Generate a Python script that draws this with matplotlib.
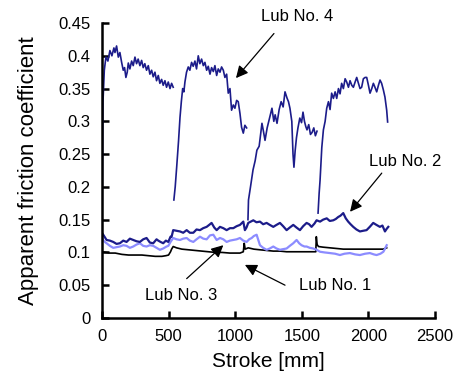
import matplotlib
matplotlib.use('Agg')
import matplotlib.pyplot as plt

plt.rcParams['font.family'] = ['Liberation Sans', 'DejaVu Sans']

# Lub No. 4 - four separate runs
lub4_x1 = [0, 3, 8, 18, 30, 45, 60, 75, 90, 98, 110, 123, 135, 148, 160, 170, 180, 190, 198, 210,
           223, 235, 248, 260, 272, 285, 298, 310, 322, 335, 348, 360, 373, 385, 398, 410, 423, 435, 448, 460,
           473, 485, 498, 511, 523, 535]
lub4_y1 = [0.07, 0.2, 0.33, 0.378, 0.398, 0.392, 0.408, 0.40, 0.412, 0.405, 0.415, 0.398, 0.405, 0.39, 0.378, 0.382, 0.367, 0.375, 0.389, 0.38,
           0.392, 0.385, 0.398, 0.388, 0.395, 0.385, 0.393, 0.382, 0.388, 0.378, 0.385, 0.372, 0.378, 0.368, 0.375, 0.362, 0.37, 0.358, 0.364, 0.355,
           0.362, 0.352, 0.36, 0.35, 0.358, 0.352]
lub4_x2 = [540, 550, 561, 575, 586, 596, 606, 615, 623, 635, 648, 660, 673, 685, 698, 710, 723, 735, 748, 761,
           773, 786, 798, 811, 823, 836, 848, 861, 873, 886, 898, 911, 923, 936, 948, 961, 973, 986, 998, 1011,
           1023, 1036, 1048, 1061, 1073, 1086]
lub4_y2 = [0.18, 0.2, 0.23, 0.27, 0.306, 0.33, 0.35, 0.345, 0.36, 0.375, 0.383, 0.378, 0.39, 0.384, 0.392, 0.38, 0.40, 0.388, 0.395, 0.385,
           0.39, 0.378, 0.384, 0.372, 0.382, 0.376, 0.385, 0.37, 0.38, 0.375, 0.383, 0.378, 0.367, 0.372, 0.343, 0.35, 0.317, 0.325, 0.32, 0.332,
           0.33, 0.312, 0.291, 0.282, 0.294, 0.29]
lub4_x3 = [1096, 1100, 1115, 1134, 1150, 1163, 1180, 1201, 1212, 1224, 1240, 1258, 1276, 1290, 1300, 1314, 1330, 1345, 1360, 1374,
           1390, 1400, 1411, 1425, 1434, 1441, 1450, 1460, 1471, 1485, 1498, 1509, 1520, 1530, 1539, 1552, 1565, 1577, 1590, 1602, 1614]
lub4_y3 = [0.15, 0.18, 0.2, 0.226, 0.24, 0.256, 0.262, 0.297, 0.285, 0.271, 0.29, 0.305, 0.32, 0.30, 0.31, 0.297, 0.318, 0.33, 0.322, 0.345,
           0.335, 0.33, 0.32, 0.3, 0.25, 0.23, 0.255, 0.275, 0.29, 0.305, 0.298, 0.314, 0.3, 0.292, 0.287, 0.295, 0.28, 0.283, 0.29, 0.278, 0.285]
lub4_x4 = [1622, 1630, 1637, 1650, 1662, 1675, 1687, 1700, 1712, 1724, 1737, 1750, 1762, 1775, 1787, 1799, 1812, 1825, 1837, 1850,
           1862, 1875, 1887, 1900, 1912, 1925, 1937, 1949, 1962, 1975, 1987, 2000, 2012, 2025, 2037, 2049, 2062, 2075, 2087, 2099,
           2112, 2124, 2137, 2144]
lub4_y4 = [0.16, 0.19, 0.21, 0.26, 0.287, 0.3, 0.32, 0.33, 0.318, 0.343, 0.335, 0.345, 0.335, 0.35, 0.342, 0.358, 0.35, 0.365, 0.36, 0.352,
           0.362, 0.355, 0.352, 0.36, 0.367, 0.358, 0.35, 0.352, 0.365, 0.367, 0.367, 0.355, 0.343, 0.35, 0.358, 0.352, 0.345, 0.355, 0.363, 0.358,
           0.348, 0.337, 0.317, 0.299]

lub2_x = [0, 10, 35, 60, 85, 110, 135, 160, 185, 210, 235, 260, 285, 310, 335, 360, 385, 410, 423, 440,
          460, 480, 498, 515, 523, 535, 560, 586, 610, 636, 660, 686, 710, 736, 760, 786, 805, 823, 843, 861,
          886, 911, 936, 961, 986, 1011, 1036, 1061, 1073, 1085, 1098, 1136, 1160, 1186, 1210, 1236, 1260, 1286, 1310, 1336,
          1360, 1386, 1410, 1436, 1460, 1486, 1510, 1536, 1555, 1573, 1595, 1611, 1637, 1660, 1687, 1710, 1736, 1755, 1773, 1790,
          1811, 1830, 1848, 1866, 1886, 1910, 1936, 1960, 1986, 2010, 2036, 2060, 2086, 2105, 2124, 2137, 2149]
lub2_y = [0.13, 0.127, 0.119, 0.118, 0.116, 0.113, 0.114, 0.118, 0.116, 0.121, 0.119, 0.117, 0.116, 0.12, 0.122, 0.115, 0.114, 0.12, 0.118, 0.116,
          0.114, 0.118, 0.116, 0.124, 0.124, 0.134, 0.133, 0.132, 0.13, 0.134, 0.13, 0.13, 0.135, 0.134, 0.137, 0.139, 0.142, 0.145, 0.138, 0.134,
          0.139, 0.137, 0.134, 0.137, 0.137, 0.14, 0.142, 0.147, 0.134, 0.138, 0.145, 0.149, 0.146, 0.147, 0.143, 0.145, 0.142, 0.139, 0.142, 0.145,
          0.14, 0.134, 0.138, 0.142, 0.138, 0.134, 0.14, 0.145, 0.143, 0.139, 0.144, 0.149, 0.147, 0.15, 0.152, 0.148, 0.149, 0.151, 0.154, 0.156,
          0.16, 0.152, 0.147, 0.143, 0.139, 0.135, 0.132, 0.133, 0.134, 0.139, 0.145, 0.142, 0.139, 0.141, 0.132, 0.136, 0.139]

lub3_x = [0, 10, 35, 60, 85, 110, 135, 160, 185, 210, 235, 260, 285, 310, 335, 360, 385, 410, 435, 460,
          485, 498, 515, 535, 560, 586, 610, 636, 660, 686, 710, 736, 761, 786, 811, 836, 861, 886, 911, 936,
          961, 986, 1011, 1036, 1061, 1086, 1105, 1124, 1140, 1161, 1175, 1186, 1210, 1236, 1260, 1286, 1310, 1336, 1360, 1386,
          1410, 1436, 1461, 1480, 1498, 1520, 1536, 1560, 1586, 1611, 1637, 1670, 1711, 1750, 1786, 1820, 1861, 1900, 1936, 1975,
          2011, 2040, 2061, 2090, 2112, 2125, 2137]
lub3_y = [0.124, 0.118, 0.114, 0.11, 0.107, 0.108, 0.109, 0.111, 0.11, 0.107, 0.109, 0.112, 0.114, 0.11, 0.109, 0.111, 0.11, 0.107, 0.104, 0.106,
          0.109, 0.11, 0.116, 0.122, 0.12, 0.119, 0.121, 0.122, 0.118, 0.116, 0.12, 0.124, 0.121, 0.12, 0.126, 0.127, 0.119, 0.122, 0.12, 0.116,
          0.118, 0.119, 0.12, 0.122, 0.118, 0.116, 0.12, 0.122, 0.125, 0.127, 0.118, 0.111, 0.107, 0.104, 0.106, 0.109, 0.106, 0.104, 0.105, 0.106,
          0.11, 0.114, 0.119, 0.114, 0.111, 0.109, 0.109, 0.107, 0.106, 0.104, 0.101, 0.1, 0.099, 0.098, 0.096, 0.098, 0.099, 0.097, 0.096, 0.098,
          0.099, 0.097, 0.096, 0.098, 0.101, 0.106, 0.111]

lub1_x = [0, 30, 60, 100, 150, 200, 250, 300, 350, 400, 450, 480, 500, 515, 523, 535, 560, 600, 650, 700,
          750, 800, 850, 900, 960, 1000, 1036, 1061, 1068, 1075, 1098, 1140, 1186, 1236, 1286, 1336, 1386, 1436, 1486, 1536,
          1586, 1605, 1609, 1615, 1625, 1660, 1711, 1761, 1811, 1861, 1911, 1961, 2011, 2061, 2111, 2137]
lub1_y = [0.101, 0.1, 0.099, 0.099, 0.097, 0.096, 0.096, 0.096, 0.095, 0.094, 0.094, 0.095, 0.096, 0.101, 0.105, 0.109, 0.107, 0.105, 0.104, 0.103,
          0.102, 0.101, 0.1, 0.1, 0.099, 0.099, 0.099, 0.101, 0.114, 0.105, 0.107, 0.105, 0.104, 0.103, 0.102, 0.102, 0.101, 0.101, 0.101, 0.101,
          0.101, 0.101, 0.124, 0.112, 0.109, 0.108, 0.107, 0.106, 0.105, 0.105, 0.105, 0.105, 0.105, 0.105, 0.105, 0.107]

navy = '#1c1c8a'

fig = plt.figure(figsize=(4.57, 3.84), dpi=100)
ax = fig.add_axes([0.223, 0.172, 0.729, 0.768])

ax.plot(lub1_x, lub1_y, color='black', lw=1.2)
ax.plot(lub3_x, lub3_y, color='#8c8cff', lw=1.6)
ax.plot(lub2_x, lub2_y, color=navy, lw=1.6)
for xs, ys in [(lub4_x1, lub4_y1), (lub4_x2, lub4_y2), (lub4_x3, lub4_y3), (lub4_x4, lub4_y4)]:
    ax.plot(xs, ys, color=navy, lw=1.2)

ax.set_xlim(0, 2500)
ax.set_ylim(0, 0.45)
ax.set_xticks([0, 500, 1000, 1500, 2000, 2500])
ax.set_yticks([0, 0.05, 0.1, 0.15, 0.2, 0.25, 0.3, 0.35, 0.4, 0.45])
ax.set_yticklabels(['0', '0.05', '0.1', '0.15', '0.2', '0.25', '0.3', '0.35', '0.4', '0.45'])
ax.tick_params(direction='in', length=5, width=1.8, labelsize=12, pad=8)
for s in ['top', 'right']:
    ax.spines[s].set_visible(False)
for s in ['left', 'bottom']:
    ax.spines[s].set_linewidth(1.8)

ax.set_xlabel('Stroke [mm]', fontsize=15, labelpad=6)
ax.set_ylabel('Apparent friction coefficient', fontsize=16, labelpad=14)

arrow = dict(arrowstyle='-|>,head_length=0.6,head_width=0.3', color='black', lw=0.9,
             shrinkA=0, shrinkB=0, mutation_scale=12)
ax.text(1464, 0.46, 'Lub No. 4', fontsize=12, ha='center', va='center')
ax.annotate('', xy=(1006, 0.366), xytext=(1291, 0.434), arrowprops=arrow)
ax.text(2275, 0.238, 'Lub No. 2', fontsize=12, ha='center', va='center')
ax.annotate('', xy=(1862, 0.162), xytext=(2100, 0.221), arrowprops=arrow)
ax.text(1749, 0.050, 'Lub No. 1', fontsize=12, ha='center', va='center')
ax.annotate('', xy=(1073, 0.081), xytext=(1374, 0.050), arrowprops=arrow)
ax.text(598, 0.035, 'Lub No. 3', fontsize=12, ha='center', va='center')
ax.annotate('', xy=(911, 0.111), xytext=(636, 0.060), arrowprops=arrow)

plt.savefig('out.png', dpi=100)
